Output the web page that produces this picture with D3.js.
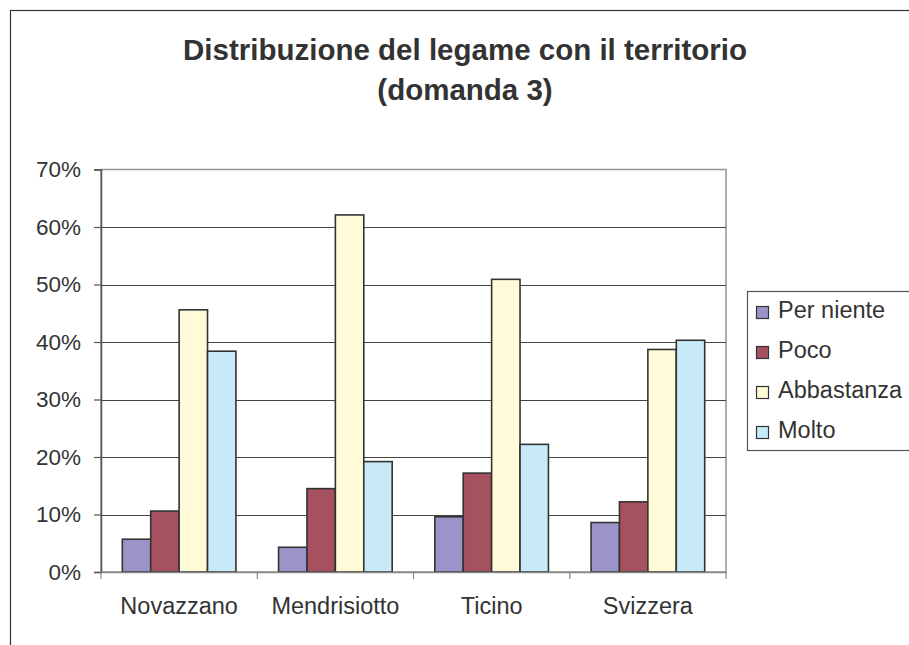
<!DOCTYPE html>
<html>
<head>
<meta charset="utf-8">
<script src="https://cdn.jsdelivr.net/npm/d3@7"></script>
<style>
  body { margin: 0; background: #fff; }
  text { font-family: "Liberation Sans", Arial, sans-serif; fill: #333; }
</style>
</head>
<body>
<div id="chart"></div>
<script>
const width = 909;
const height = 645;

const categories = ["Novazzano", "Mendrisiotto", "Ticino", "Svizzera"];
const series = ["Per niente", "Poco", "Abbastanza", "Molto"];
const colors = ["#9b94c8", "#a65160", "#fffbd8", "#c8eaf8"];
// valori in percentuale, una lista per serie
const perNiente = [5.7, 4.3, 9.6, 8.6];
const poco = [10.6, 14.5, 17.2, 12.2];
const abbastanza = [45.6, 62.1, 50.9, 38.7];
const molto = [38.4, 19.2, 22.2, 40.3];
const yTicks = [0, 10, 20, 30, 40, 50, 60, 70];
const titleLines = ["Distribuzione del legame con il territorio", "(domanda 3)"];

const values = [perNiente, poco, abbastanza, molto];

const plot = { left: 101, right: 726, top: 169.5, bottom: 572 };

const svg = d3.select("#chart")
  .append("svg")
  .attr("width", width)
  .attr("height", height);

// cornice esterna (tagliata a destra e in basso)
svg.append("rect")
  .attr("x", 10.5)
  .attr("y", 10.5)
  .attr("width", 1000)
  .attr("height", 1000)
  .attr("fill", "none")
  .attr("stroke", "#333")
  .attr("stroke-width", 1.2);

// titolo
svg.append("g").selectAll("text")
  .data(titleLines)
  .enter()
  .append("text")
  .attr("x", 465)
  .attr("y", (d, i) => 60 + i * 40)
  .attr("text-anchor", "middle")
  .style("font-size", "29.5px")
  .style("font-weight", "bold")
  .text(d => d);

const x0 = d3.scaleBand()
  .domain(categories)
  .range([plot.left, plot.right]);

const x1 = d3.scaleBand()
  .domain(series)
  .range([0, x0.bandwidth()])
  .paddingOuter(0.75);

const y = d3.scaleLinear()
  .domain([0, 70])
  .range([plot.bottom, plot.top]);

// area del grafico
svg.append("rect")
  .attr("x", plot.left)
  .attr("y", plot.top)
  .attr("width", plot.right - plot.left)
  .attr("height", plot.bottom - plot.top)
  .attr("fill", "#fff")
  .attr("stroke", "#9a8f8f")
  .attr("stroke-width", 1.5);

svg.append("g").selectAll("line")
  .data(yTicks.filter(t => t > 0 && t < 70))
  .enter()
  .append("line")
  .attr("x1", plot.left)
  .attr("x2", plot.right)
  .attr("y1", d => Math.round(y(d)) + 0.5)
  .attr("y2", d => Math.round(y(d)) + 0.5)
  .attr("stroke", "#444")
  .attr("stroke-width", 1.2);

// barre
const groups = svg.append("g").selectAll("g")
  .data(series)
  .enter()
  .append("g")
  .attr("fill", (d, i) => colors[i]);

groups.selectAll("rect")
  .data((s, si) => categories.map((c, ci) => ({ c: c, s: s, v: values[si][ci] })))
  .enter()
  .append("rect")
  .attr("x", d => x0(d.c) + x1(d.s))
  .attr("y", d => y(d.v))
  .attr("width", x1.bandwidth())
  .attr("height", d => y(0) - y(d.v))
  .attr("stroke", "#333")
  .attr("stroke-width", 1.6);

// asse y
const yAxis = svg.append("g")
  .attr("transform", "translate(" + plot.left + ",0)")
  .call(d3.axisLeft(y)
    .tickValues(yTicks)
    .tickFormat(d => d + "%")
    .tickSize(7)
    .tickPadding(13));
yAxis.select(".domain").attr("stroke", "#555").attr("stroke-width", 1.5);
yAxis.selectAll(".tick line").attr("stroke", "#555").attr("stroke-width", 1.2);
yAxis.selectAll("text").style("font-size", "22.5px").attr("fill", "#333");

// asse x
const xAxis = svg.append("g")
  .attr("transform", "translate(0," + plot.bottom + ")")
  .call(d3.axisBottom(x0).tickSize(0).tickPadding(25));
xAxis.select(".domain").attr("stroke", "#888").attr("stroke-width", 1.5);
xAxis.selectAll("text").style("font-size", "23.5px").attr("fill", "#333");

const bounds = categories.map(c => x0(c)).concat([plot.right]);
svg.append("g").selectAll("line")
  .data(bounds)
  .enter()
  .append("line")
  .attr("x1", d => d)
  .attr("x2", d => d)
  .attr("y1", plot.bottom)
  .attr("y2", plot.bottom + 7)
  .attr("stroke", "#888")
  .attr("stroke-width", 1.2);

// legenda
const legend = svg.append("g");
legend.append("rect")
  .attr("x", 747.5)
  .attr("y", 291.5)
  .attr("width", 200)
  .attr("height", 159)
  .attr("fill", "#fff")
  .attr("stroke", "#555")
  .attr("stroke-width", 1.2);

const items = legend.selectAll("g")
  .data(series)
  .enter()
  .append("g")
  .attr("transform", (d, i) => "translate(0," + (318 + i * 40) + ")");

items.append("rect")
  .attr("x", 756.5)
  .attr("y", -11.5)
  .attr("width", 12)
  .attr("height", 12)
  .attr("fill", (d, i) => colors[i])
  .attr("stroke", "#333")
  .attr("stroke-width", 1.2);

items.append("text")
  .attr("x", 778)
  .attr("y", 0)
  .style("font-size", "23.5px")
  .text(d => d);
</script>
</body>
</html>
